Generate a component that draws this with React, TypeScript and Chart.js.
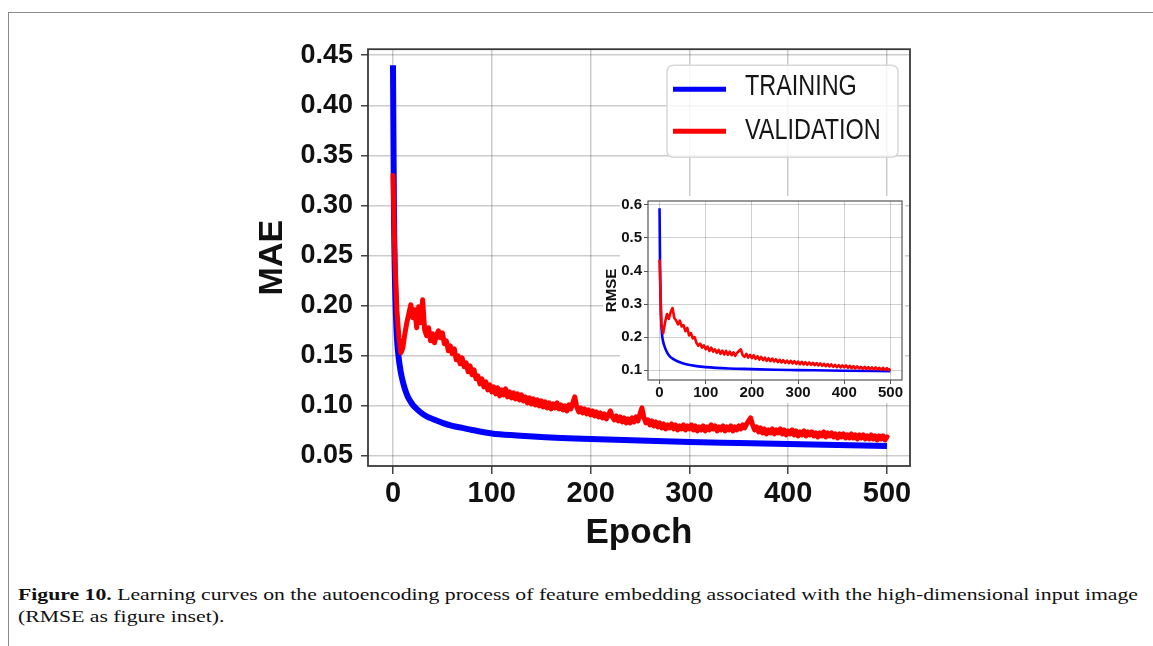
import React, { useEffect, useLayoutEffect, useRef } from 'react';
import { Chart, registerables } from 'chart.js';

Chart.register(...registerables);
Chart.defaults.font.family = "'Liberation Sans', Arial, sans-serif";

// ---------------- data ----------------
const SERIES_LABELS = ['TRAINING', 'VALIDATION'];
const X_TICKS = [0, 100, 200, 300, 400, 500];
const MAE_TICKS = [0.05, 0.1, 0.15, 0.2, 0.25, 0.3, 0.35, 0.4, 0.45];
const RMSE_TICKS = [0.1, 0.2, 0.3, 0.4, 0.5, 0.6];

// main panel: MAE training curve (epoch, value)
const MAE_TRAIN_EPOCHS = [0, 1, 2, 3, 4, 5, 6, 7, 8, 10, 12, 15, 18, 20, 25, 30, 35, 40, 50, 60, 70, 80, 100, 125, 150, 200, 250, 300, 350, 400, 450, 500];
const MAE_TRAIN = [0.44, 0.29, 0.225, 0.19, 0.168, 0.155, 0.146, 0.139, 0.133, 0.124, 0.117, 0.109, 0.104, 0.101, 0.096, 0.092, 0.089, 0.087, 0.083, 0.08, 0.078, 0.076, 0.0725, 0.0705, 0.069, 0.067, 0.0655, 0.064, 0.063, 0.062, 0.061, 0.06];

// main panel: MAE validation curve, one value every 2 epochs (0..500)
const MAE_VAL_STEP = 2;
const MAE_VAL = [
  0.330, 0.245, 0.195, 0.168, 0.153, 0.158, 0.172, 0.183, 0.192, 0.201,
  0.188, 0.196, 0.178, 0.199, 0.183, 0.206, 0.176, 0.170, 0.178, 0.165,
  0.172, 0.163, 0.170, 0.175, 0.168, 0.173, 0.162, 0.165, 0.155, 0.160,
  0.152, 0.157, 0.146, 0.150, 0.142, 0.148, 0.139, 0.143, 0.134, 0.140,
  0.131, 0.136, 0.127, 0.130, 0.122, 0.127, 0.119, 0.124, 0.116, 0.121,
  0.114, 0.119, 0.112, 0.118, 0.110, 0.116, 0.111, 0.117, 0.109, 0.114,
  0.108, 0.113, 0.107, 0.112, 0.106, 0.111, 0.105, 0.109, 0.103, 0.108,
  0.102, 0.107, 0.101, 0.106, 0.100, 0.105, 0.099, 0.104, 0.098, 0.103,
  0.097, 0.102, 0.098, 0.103, 0.097, 0.101, 0.096, 0.100, 0.095, 0.101,
  0.097, 0.103, 0.109, 0.099, 0.094, 0.098, 0.093, 0.097, 0.092, 0.096,
  0.091, 0.095, 0.090, 0.094, 0.089, 0.093, 0.088, 0.092, 0.087, 0.091,
  0.095, 0.089, 0.086, 0.090, 0.085, 0.089, 0.084, 0.088, 0.083, 0.087,
  0.083, 0.088, 0.084, 0.089, 0.085, 0.092, 0.098, 0.088, 0.083, 0.086,
  0.081, 0.085, 0.080, 0.084, 0.079, 0.083, 0.078, 0.082, 0.077, 0.081,
  0.078, 0.082, 0.077, 0.081, 0.076, 0.080, 0.077, 0.081, 0.076, 0.080,
  0.077, 0.081, 0.076, 0.080, 0.075, 0.079, 0.076, 0.080, 0.075, 0.079,
  0.076, 0.081, 0.077, 0.080, 0.075, 0.079, 0.076, 0.080, 0.075, 0.079,
  0.076, 0.080, 0.075, 0.079, 0.076, 0.080, 0.077, 0.081, 0.078, 0.082,
  0.085, 0.088, 0.081, 0.076, 0.079, 0.074, 0.078, 0.073, 0.077, 0.072,
  0.076, 0.073, 0.077, 0.072, 0.076, 0.073, 0.077, 0.072, 0.076, 0.071,
  0.075, 0.072, 0.076, 0.071, 0.075, 0.070, 0.074, 0.071, 0.075, 0.070,
  0.074, 0.071, 0.074, 0.070, 0.073, 0.069, 0.073, 0.070, 0.074, 0.069,
  0.073, 0.070, 0.073, 0.069, 0.072, 0.068, 0.072, 0.069, 0.072, 0.068,
  0.071, 0.068, 0.072, 0.068, 0.071, 0.067, 0.071, 0.068, 0.071, 0.067,
  0.070, 0.067, 0.071, 0.067, 0.070, 0.066, 0.070, 0.067, 0.070, 0.066,
  0.069,
];

// inset: RMSE training curve (epoch, value)
const RMSE_TRAIN_EPOCHS = [0, 1, 2, 3, 4, 5, 6, 8, 10, 15, 20, 30, 40, 50, 60, 80, 100, 150, 200, 250, 300, 400, 500];
const RMSE_TRAIN = [0.59, 0.43, 0.33, 0.27, 0.235, 0.215, 0.2, 0.185, 0.175, 0.157, 0.145, 0.133, 0.126, 0.121, 0.117, 0.112, 0.109, 0.105, 0.103, 0.101, 0.1, 0.098, 0.097];

// inset: RMSE validation curve, one value every 4 epochs (0..500)
const RMSE_VAL_STEP = 4;
const RMSE_VAL = [
  0.435, 0.240, 0.212, 0.245, 0.270, 0.255, 0.275, 0.288, 0.258, 0.250,
  0.238, 0.250, 0.232, 0.236, 0.218, 0.228, 0.205, 0.212, 0.196, 0.200,
  0.182, 0.174, 0.180, 0.168, 0.175, 0.163, 0.171, 0.158, 0.168, 0.156,
  0.163, 0.152, 0.161, 0.149, 0.159, 0.147, 0.158, 0.146, 0.156, 0.145,
  0.154, 0.143, 0.152, 0.158, 0.163, 0.145, 0.140, 0.149, 0.138, 0.146,
  0.136, 0.145, 0.134, 0.142, 0.132, 0.140, 0.130, 0.138, 0.128, 0.136,
  0.127, 0.135, 0.126, 0.133, 0.124, 0.131, 0.123, 0.130, 0.122, 0.129,
  0.121, 0.128, 0.120, 0.127, 0.119, 0.126, 0.118, 0.125, 0.117, 0.124,
  0.116, 0.123, 0.116, 0.122, 0.115, 0.121, 0.114, 0.120, 0.113, 0.119,
  0.112, 0.118, 0.111, 0.117, 0.110, 0.116, 0.109, 0.115, 0.108, 0.114,
  0.108, 0.114, 0.107, 0.113, 0.106, 0.112, 0.105, 0.111, 0.105, 0.110,
  0.104, 0.110, 0.103, 0.109, 0.103, 0.108, 0.102, 0.108, 0.102, 0.107,
  0.101, 0.107, 0.101, 0.106, 0.100, 0.104,
];

const CAPTION_BOLD = 'Figure 10.';
const CAPTION_LINE1 = ' Learning curves on the autoencoding process of feature embedding associated with the high-dimensional input image';
const CAPTION_LINE2 = '(RMSE as figure inset).';

// ---------------- styles ----------------
const BLUE = '#0000ff';
const RED = '#ff0000';
const FONT = "'Liberation Sans', Arial, sans-serif";
const CAPTION_WIDTH = 1120;

const pairs = (xs: number[], ys: number[]) => ys.map((y, i) => ({ x: xs[i], y }));
const stepped = (step: number, ys: number[]) => ys.map((y, i) => ({ x: i * step, y }));

const framePlugin = {
  id: 'frameLegend',
  beforeDraw(chart: any, _args: any, opts: any) {
    if (!opts || !opts.whiteBg) return;
    const { ctx, chartArea: a, width, height } = chart;
    ctx.save();
    ctx.fillStyle = '#ffffff';
    ctx.fillRect(20, 6, width - 25, height - 8);
    const mid = (a.top + a.bottom) / 2;
    ctx.fillRect(3, mid - 32, 18, 64);
    ctx.restore();
  },
  afterDraw(chart: any, _args: any, opts: any) {
    const { ctx, chartArea: a } = chart;
    ctx.save();
    ctx.strokeStyle = opts.frameColor || '#333';
    ctx.lineWidth = opts.frameWidth || 1.5;
    ctx.strokeRect(a.left, a.top, a.right - a.left, a.bottom - a.top);
    if (opts.legend) {
      const bw = 231, bh = 92;
      const bx = a.right - 12 - bw;
      const by = a.top + 16;
      const r = 7;
      ctx.beginPath();
      ctx.moveTo(bx + r, by);
      ctx.lineTo(bx + bw - r, by);
      ctx.quadraticCurveTo(bx + bw, by, bx + bw, by + r);
      ctx.lineTo(bx + bw, by + bh - r);
      ctx.quadraticCurveTo(bx + bw, by + bh, bx + bw - r, by + bh);
      ctx.lineTo(bx + r, by + bh);
      ctx.quadraticCurveTo(bx, by + bh, bx, by + bh - r);
      ctx.lineTo(bx, by + r);
      ctx.quadraticCurveTo(bx, by, bx + r, by);
      ctx.closePath();
      ctx.fillStyle = 'rgba(255,255,255,0.82)';
      ctx.fill();
      ctx.strokeStyle = '#d8d8d8';
      ctx.lineWidth = 1.5;
      ctx.stroke();
      const rows = [
        { line: by + 24, text: by + 22 },
        { line: by + 66, text: by + 66 },
      ];
      const items = [
        { label: SERIES_LABELS[0], color: BLUE },
        { label: SERIES_LABELS[1], color: RED },
      ];
      items.forEach((it, i) => {
        ctx.beginPath();
        ctx.strokeStyle = it.color;
        ctx.lineWidth = 5;
        ctx.lineCap = 'butt';
        ctx.moveTo(bx + 6, rows[i].line);
        ctx.lineTo(bx + 59, rows[i].line);
        ctx.stroke();
        ctx.save();
        ctx.translate(bx + 78, rows[i].text);
        ctx.scale(0.78, 1);
        ctx.font = `30px ${FONT}`;
        ctx.fillStyle = '#151515';
        ctx.textBaseline = 'middle';
        ctx.textAlign = 'left';
        ctx.fillText(it.label, 0, 0);
        ctx.restore();
      });
    }
    ctx.restore();
  },
};

function MainChart() {
  const ref = useRef<HTMLCanvasElement>(null);
  useEffect(() => {
    const chart = new Chart(ref.current as HTMLCanvasElement, {
      type: 'line',
      data: {
        datasets: [
          {
            label: SERIES_LABELS[0],
            data: pairs(MAE_TRAIN_EPOCHS, MAE_TRAIN),
            borderColor: BLUE,
            borderWidth: 6,
            pointRadius: 0,
            cubicInterpolationMode: 'monotone',
            borderJoinStyle: 'round',
            order: 2,
          },
          {
            label: SERIES_LABELS[1],
            data: stepped(MAE_VAL_STEP, MAE_VAL),
            borderColor: RED,
            borderWidth: 5,
            pointRadius: 0,
            borderJoinStyle: 'round',
            borderCapStyle: 'round',
            order: 1,
          },
        ],
      },
      options: {
        animation: false,
        responsive: false,
        events: [],
        layout: { padding: { top: 0, right: 20, left: 0, bottom: 0 } },
        plugins: {
          legend: { display: false },
          tooltip: { enabled: false },
          frameLegend: { legend: true, frameColor: '#3a3a3a', frameWidth: 1.8 },
        } as any,
        scales: {
          x: {
            type: 'linear',
            min: -25.3,
            max: 523.3,
            afterBuildTicks: (s: any) => {
              s.ticks = X_TICKS.map((v) => ({ value: v }));
            },
            afterFit: (s: any) => {
              s.height = 94;
            },
            ticks: {
              font: { family: FONT, size: 29, weight: 'bold' },
              color: '#111',
              padding: 3,
              maxRotation: 0,
            },
            grid: { color: 'rgba(0,0,0,0.2)', lineWidth: 1.5, tickLength: 8, tickColor: '#444', tickWidth: 1.5 },
            border: { display: false },
            title: {
              display: true,
              text: 'Epoch',
              font: { family: FONT, size: 35, weight: 'bold' },
              color: '#111',
              padding: { top: 0, bottom: 6 },
            },
          },
          y: {
            type: 'linear',
            min: 0.04,
            max: 0.456,
            afterBuildTicks: (s: any) => {
              s.ticks = MAE_TICKS.map((v) => ({ value: v }));
            },
            afterFit: (s: any) => {
              s.width = 128;
            },
            ticks: {
              font: { family: FONT, size: 27, weight: 'bold' },
              color: '#111',
              padding: 8,
              callback: (v: any) => Number(v).toFixed(2),
            },
            grid: { color: 'rgba(0,0,0,0.2)', lineWidth: 1.5, tickLength: 7, tickColor: '#444', tickWidth: 1.5 },
            border: { display: false },
            title: {
              display: true,
              text: 'MAE',
              font: { family: FONT, size: 34, weight: 'bold' },
              color: '#111',
              padding: { top: 12, bottom: 0 },
            },
          },
        },
      } as any,
      plugins: [framePlugin],
    });
    return () => chart.destroy();
  }, []);
  return (
    <canvas
      ref={ref}
      width={690}
      height={535}
      style={{ position: 'absolute', left: 240, top: 25, width: 690, height: 535 }}
    />
  );
}

function InsetChart() {
  const ref = useRef<HTMLCanvasElement>(null);
  useEffect(() => {
    const chart = new Chart(ref.current as HTMLCanvasElement, {
      type: 'line',
      data: {
        datasets: [
          {
            label: SERIES_LABELS[0],
            data: pairs(RMSE_TRAIN_EPOCHS, RMSE_TRAIN),
            borderColor: BLUE,
            borderWidth: 2.6,
            pointRadius: 0,
            cubicInterpolationMode: 'monotone',
            borderJoinStyle: 'round',
            order: 2,
          },
          {
            label: SERIES_LABELS[1],
            data: stepped(RMSE_VAL_STEP, RMSE_VAL),
            borderColor: RED,
            borderWidth: 2.6,
            pointRadius: 0,
            borderJoinStyle: 'round',
            order: 1,
          },
        ],
      },
      options: {
        animation: false,
        responsive: false,
        events: [],
        layout: { padding: { top: 0, right: 8, left: 0, bottom: 0 } },
        plugins: {
          legend: { display: false },
          tooltip: { enabled: false },
          frameLegend: { legend: false, whiteBg: true, frameColor: '#555', frameWidth: 1.2 },
        } as any,
        scales: {
          x: {
            type: 'linear',
            min: -25,
            max: 525,
            afterBuildTicks: (s: any) => {
              s.ticks = X_TICKS.map((v) => ({ value: v }));
            },
            afterFit: (s: any) => {
              s.height = 25;
            },
            ticks: {
              font: { family: FONT, size: 15, weight: 'bold' },
              color: '#111',
              padding: 0,
              maxRotation: 0,
            },
            grid: { color: 'rgba(0,0,0,0.18)', lineWidth: 1, tickLength: 4, tickColor: '#555', tickWidth: 1 },
            border: { display: false },
          },
          y: {
            type: 'linear',
            min: 0.07,
            max: 0.612,
            afterBuildTicks: (s: any) => {
              s.ticks = RMSE_TICKS.map((v) => ({ value: v }));
            },
            afterFit: (s: any) => {
              s.width = 48;
            },
            ticks: {
              font: { family: FONT, size: 15, weight: 'bold' },
              color: '#111',
              padding: 2,
              callback: (v: any) => Number(v).toFixed(1),
            },
            grid: { color: 'rgba(0,0,0,0.18)', lineWidth: 1, tickLength: 4, tickColor: '#555', tickWidth: 1 },
            border: { display: false },
            title: {
              display: true,
              text: 'RMSE',
              font: { family: FONT, size: 15, weight: 'bold' },
              color: '#111',
              padding: { top: 3, bottom: 0 },
            },
          },
        },
      } as any,
      plugins: [framePlugin],
    });
    return () => chart.destroy();
  }, []);
  return (
    <canvas
      ref={ref}
      width={310}
      height={215}
      style={{ position: 'absolute', left: 600, top: 190, width: 310, height: 215 }}
    />
  );
}

function Caption() {
  const boxRef = useRef<HTMLDivElement>(null);
  const lineRef = useRef<HTMLSpanElement>(null);
  useLayoutEffect(() => {
    const box = boxRef.current;
    const line = lineRef.current;
    if (!box || !line) return;
    box.style.transform = 'none';
    const w = line.getBoundingClientRect().width;
    if (w > 0) box.style.transform = `scaleX(${CAPTION_WIDTH / w})`;
  }, []);
  return (
    <div
      ref={boxRef}
      style={{
        position: 'absolute',
        left: 18,
        top: 584,
        transformOrigin: '0 0',
        fontFamily: "'Liberation Serif', 'Times New Roman', serif",
        fontSize: 17,
        lineHeight: '22px',
        color: '#111',
        whiteSpace: 'nowrap',
      }}
    >
      <div>
        <span ref={lineRef}>
          <b>{CAPTION_BOLD}</b>
          {CAPTION_LINE1}
        </span>
      </div>
      <div>{CAPTION_LINE2}</div>
    </div>
  );
}

export default function App() {
  return (
    <div
      style={{
        position: 'fixed',
        left: 0,
        top: 0,
        width: 1153,
        height: 646,
        background: '#ffffff',
        overflow: 'hidden',
      }}
    >
      <div
        style={{
          position: 'absolute',
          left: 8,
          top: 12,
          right: -10,
          bottom: -10,
          borderTop: '1.5px solid #8a8a8a',
          borderLeft: '1.5px solid #8a8a8a',
        }}
      />
      <MainChart />
      <InsetChart />
      <Caption />
    </div>
  );
}
